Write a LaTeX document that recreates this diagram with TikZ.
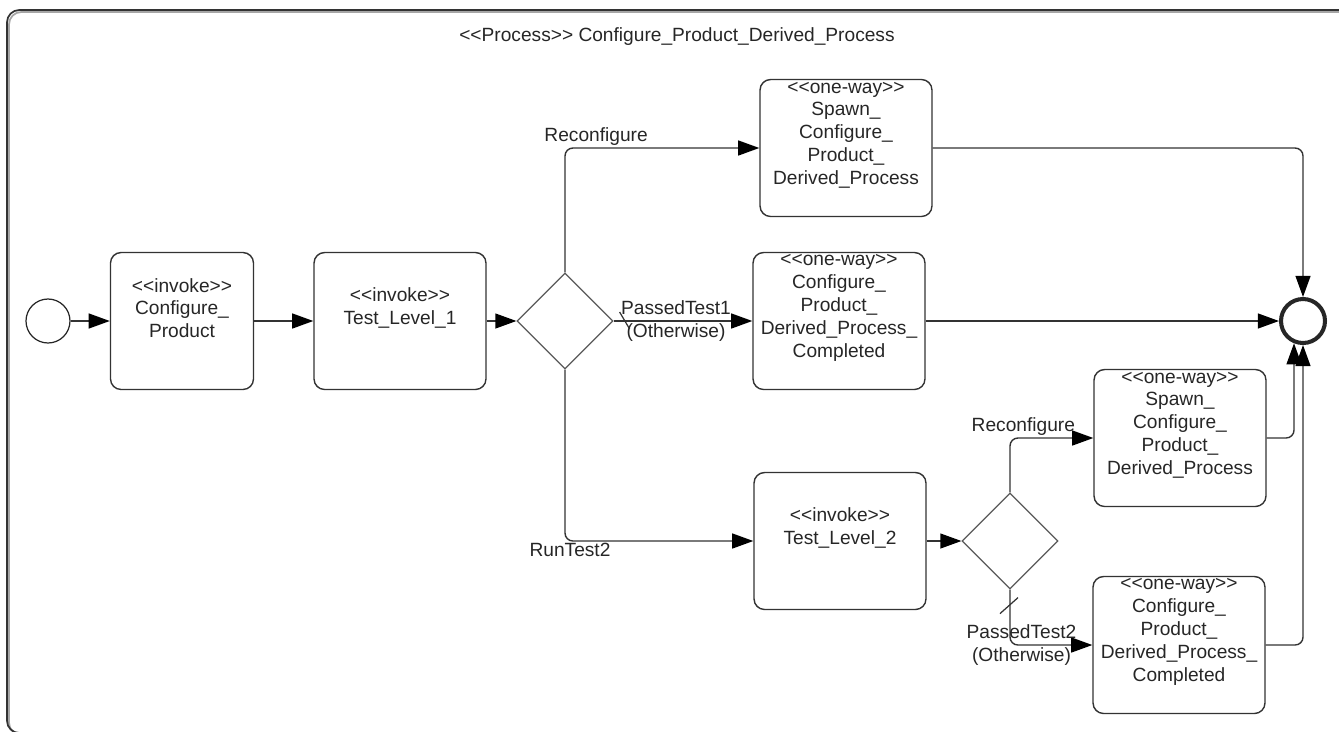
\documentclass[tikz,border=0pt]{standalone}
\usepackage{fontspec}
\setmainfont{Liberation Sans}
\usetikzlibrary{arrows.meta,shapes.geometric}

\newcommand\stereo[1]{<{}<#1>{}>}

\begin{document}
\begin{tikzpicture}[
  x=0.02cm, y=-0.02cm,
  font=\fontsize{10.9}{13}\selectfont, text=black!85,
  task/.style={draw=black!80, line width=0.8pt, rounded corners=6pt,
               minimum width=3.44cm, minimum height=2.74cm,
               label={[align=center, yshift=0.26cm]center:{#1}}},
  gate/.style={diamond, draw=black!65, line width=0.7pt, inner sep=0pt,
               minimum width=1.92cm, minimum height=1.92cm},
  event/.style={circle, draw=black!85, minimum size=0.88cm, inner sep=0pt},
  arr/.style={-{Triangle[length=12pt, width=8.5pt, color=black]}, line width=0.8pt,
              draw=black!80, rounded corners=4.5pt},
  lbl/.style={align=center, inner sep=1pt}
]
  \useasboundingbox (0,0) rectangle (1339,731);

  % Frame of the process
  \draw[black!35, line width=1pt, rounded corners=7pt] (9,12) rectangle (1400,735);
  \draw[black!80, line width=1pt, rounded corners=7pt] (7,10) rectangle (1400,733);
  \node (title) at (677,37) {\stereo{Process} Configure\_Product\_Derived\_Process};

  % Main row
  \node[event, line width=0.7pt] (start) at (48,321) {};
  \node[task={\stereo{invoke}\\Configure\_\\Product}, minimum width=2.86cm] (cfg) at (182,321) {};
  \node[task={\stereo{invoke}\\Test\_Level\_1}] (tl1) at (400,321) {};
  \node[gate] (d1) at (565,321) {};
  \node[task={\stereo{one-way}\\Spawn\_\\Configure\_\\Product\_\\Derived\_Process}] (spawnA) at (846,148) {};
  \node[task={\stereo{one-way}\\Configure\_\\Product\_\\Derived\_Process\_\\Completed}] (doneA) at (839,321) {};
  \node[event, line width=2.3pt] (finish) at (1303,321) {};

  % Second test level
  \node[task={\stereo{invoke}\\Test\_Level\_2}] (tl2) at (840,541) {};
  \node[gate] (d2) at (1010,541) {};
  \node[task={\stereo{one-way}\\Spawn\_\\Configure\_\\Product\_\\Derived\_Process}] (spawnB) at (1180,438) {};
  \node[task={\stereo{one-way}\\Configure\_\\Product\_\\Derived\_Process\_\\Completed}] (doneB) at (1179,645) {};

  % Flows
  \draw[arr] (start) -- (cfg);
  \draw[arr] (cfg) -- (tl1);
  \draw[arr] (tl1) -- (d1);
  \draw[arr] (d1.north) |- node[lbl, pos=0.58, above]{Reconfigure} (spawnA.west);
  \draw[arr] (d1.east) -- node[lbl, pos=0.45]{PassedTest1\\(Otherwise)} (doneA.west);
  \draw[arr] (d1.south) |- node[lbl, pos=0.5, below, xshift=0.1cm]{RunTest2} (tl2.west);
  \draw[arr] (tl2) -- (d2);
  \draw[arr] (d2.north) |- node[lbl, pos=0.58, above]{Reconfigure} (spawnB.west);
  \draw[arr] (d2.south) |- node[lbl, pos=0.57]{PassedTest2\\(Otherwise)} (doneB.west);

  % Default flow marks
  \draw[black!80, line width=0.7pt] ([shift={(6,-9)}]d1.east) -- ++(10,17);
  \draw[black!80, line width=0.7pt] ([shift={(-10,24)}]d2.south) -- ++(18,-16);

  % Into the end event
  \draw[arr] (spawnA.east) -| (finish.north);
  \draw[arr] (doneA.east) -- (finish.west);
  \draw[arr] (spawnB.east) -| (finish.-112);
  \draw[arr] (doneB.east) -| (finish.south);
\end{tikzpicture}
\end{document}
